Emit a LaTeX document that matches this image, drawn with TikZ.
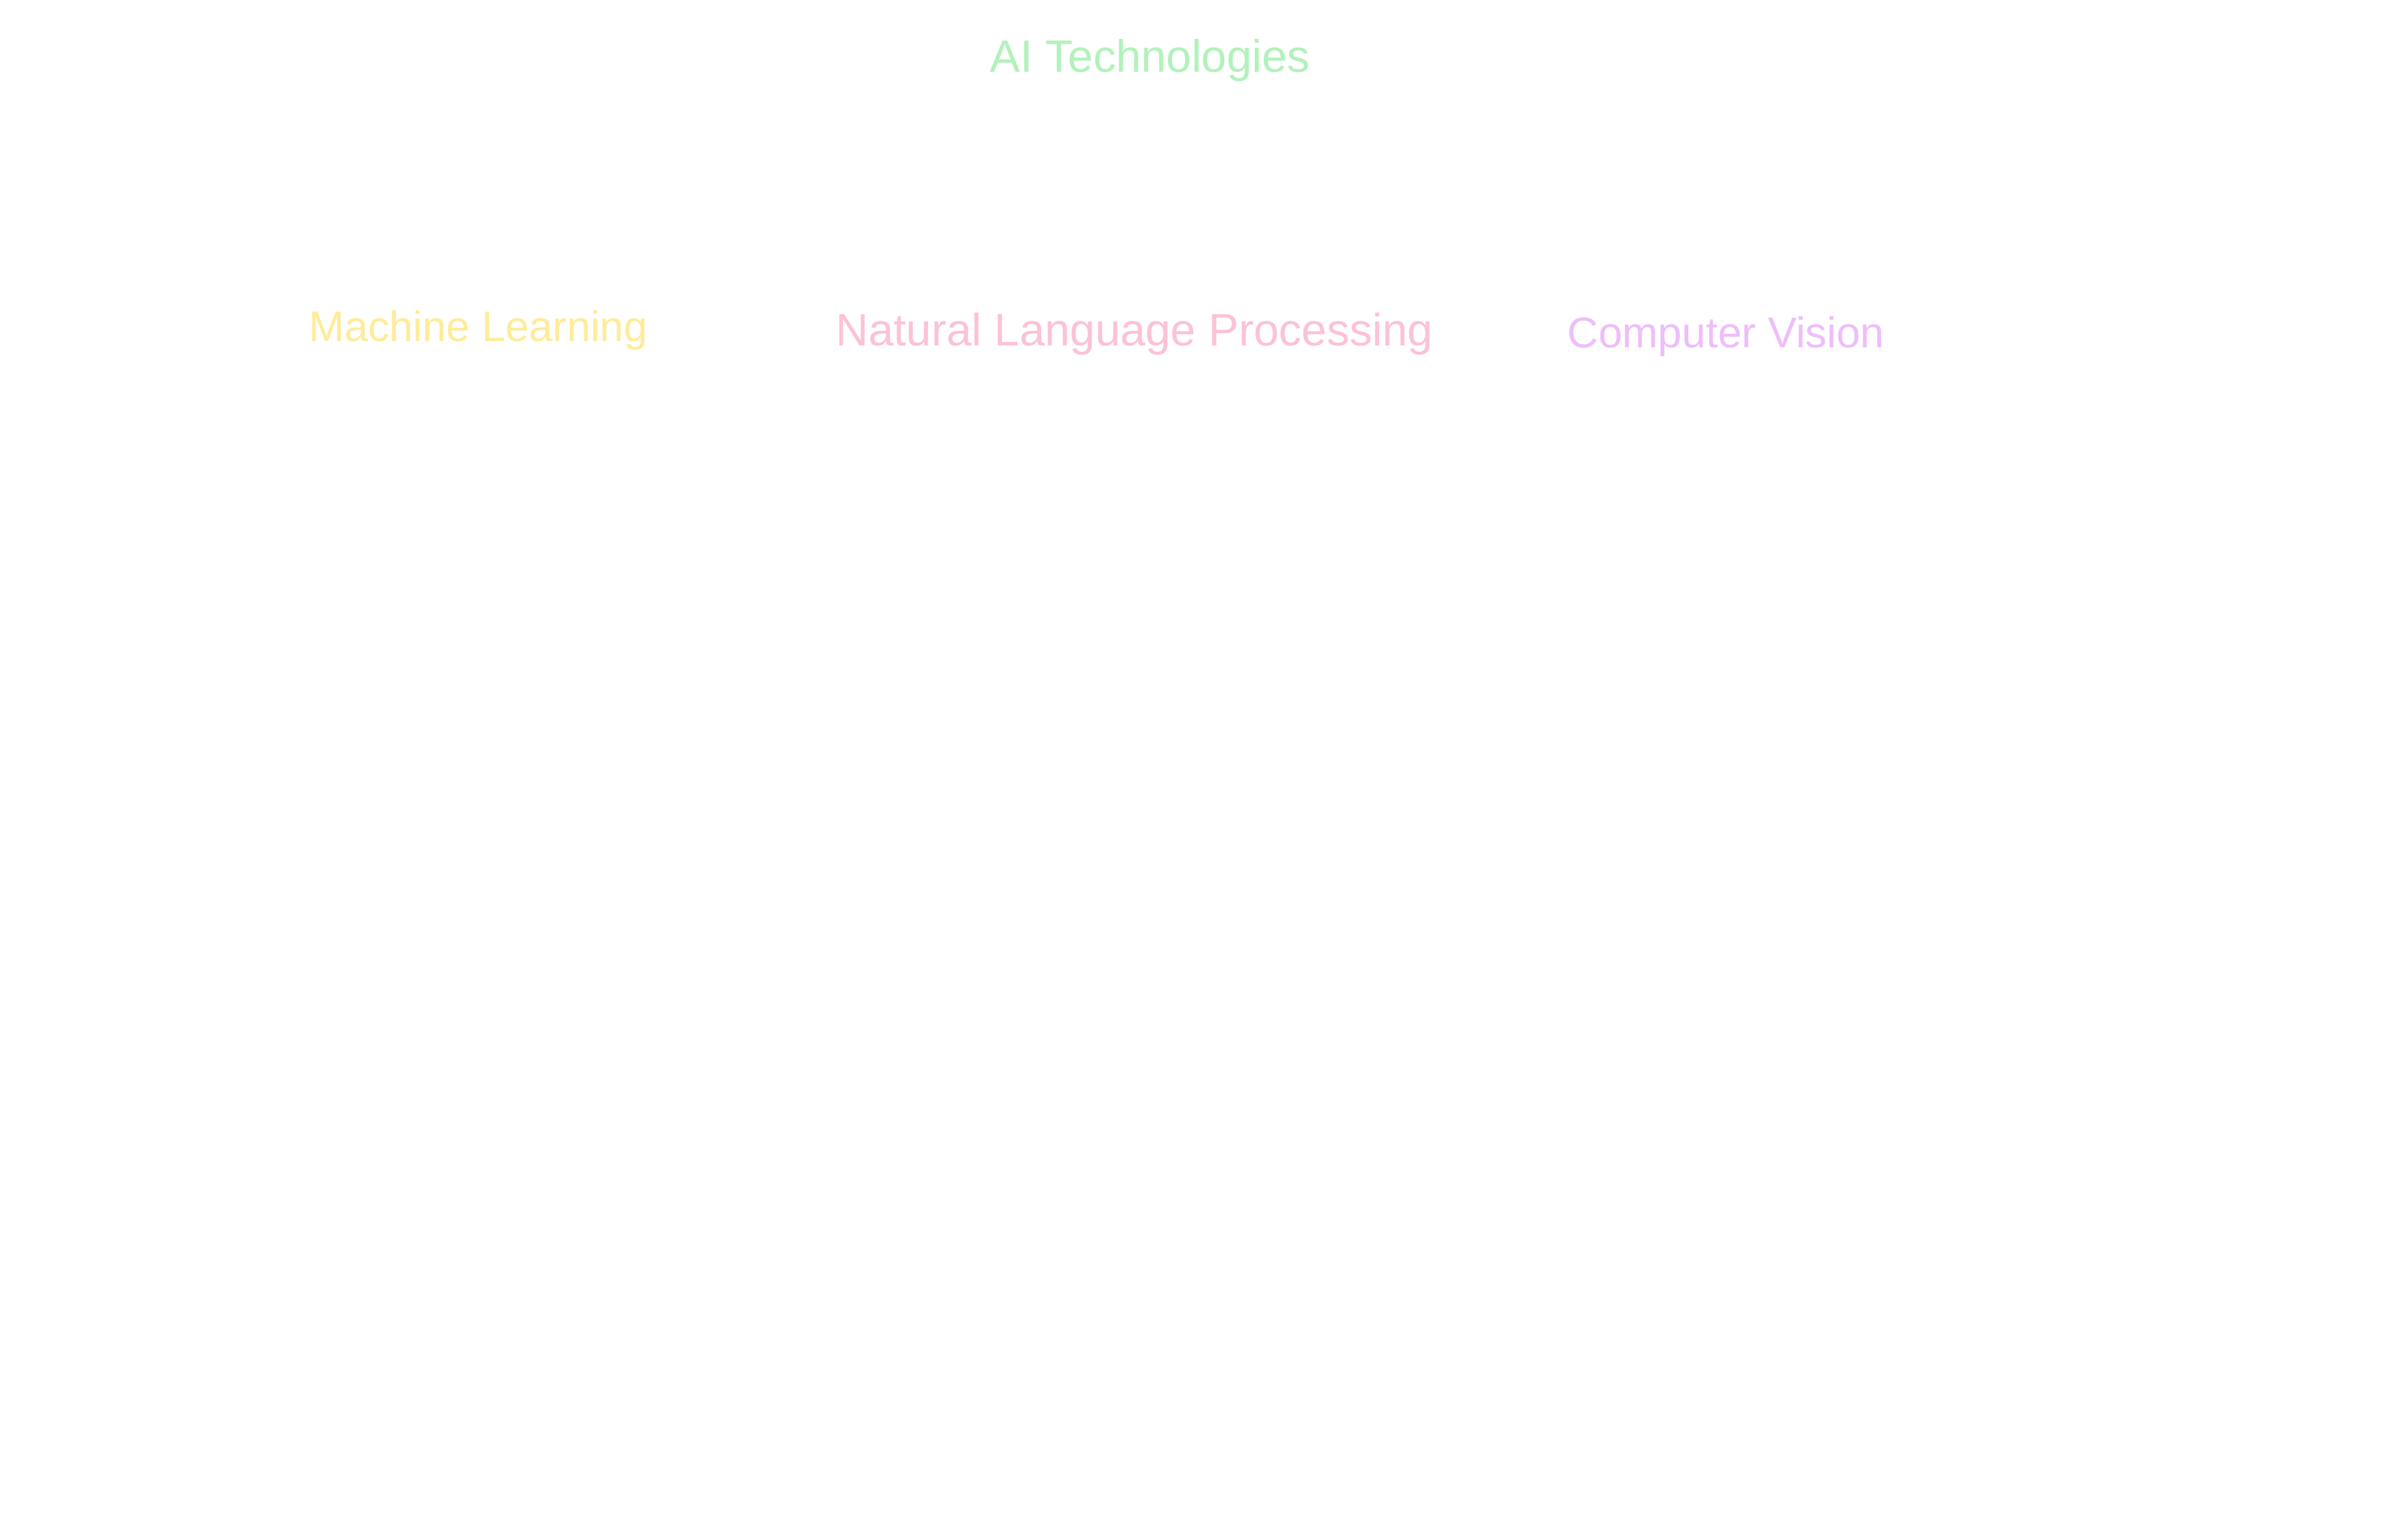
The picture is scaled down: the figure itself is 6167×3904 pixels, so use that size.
\documentclass[tikz,border=0pt]{standalone}
\usepackage{fontspec}
\setmainfont{Liberation Sans}
\definecolor{cgreen}{HTML}{B2F2BB}
\definecolor{cyellow}{HTML}{FFEC99}
\definecolor{cpink}{HTML}{FCC2D7}
\definecolor{cpurple}{HTML}{EEBEFA}
\tikzset{
  lbl/.style={anchor=base, inner sep=0pt, font=\fontsize{31}{37}\selectfont}
}
\begin{document}
\begin{tikzpicture}[x=0.01cm, y=-0.01cm]
\useasboundingbox[fill=white] (0,0) rectangle (6167,3904);
\node[lbl, text=cgreen, font=\fontsize{33}{40}\selectfont] (title) at (2945,185) {AI Technologies};
\node[lbl, text=cyellow] (ml) at (1225,874) {Machine Learning};
\node[lbl, text=cpink, font=\fontsize{33}{40}\selectfont] (nlp) at (2905,885) {Natural Language Processing};
\node[lbl, text=cpurple, font=\fontsize{31.3}{37}\selectfont] (cv) at (4420,890) {Computer Vision};
\end{tikzpicture}
\end{document}
